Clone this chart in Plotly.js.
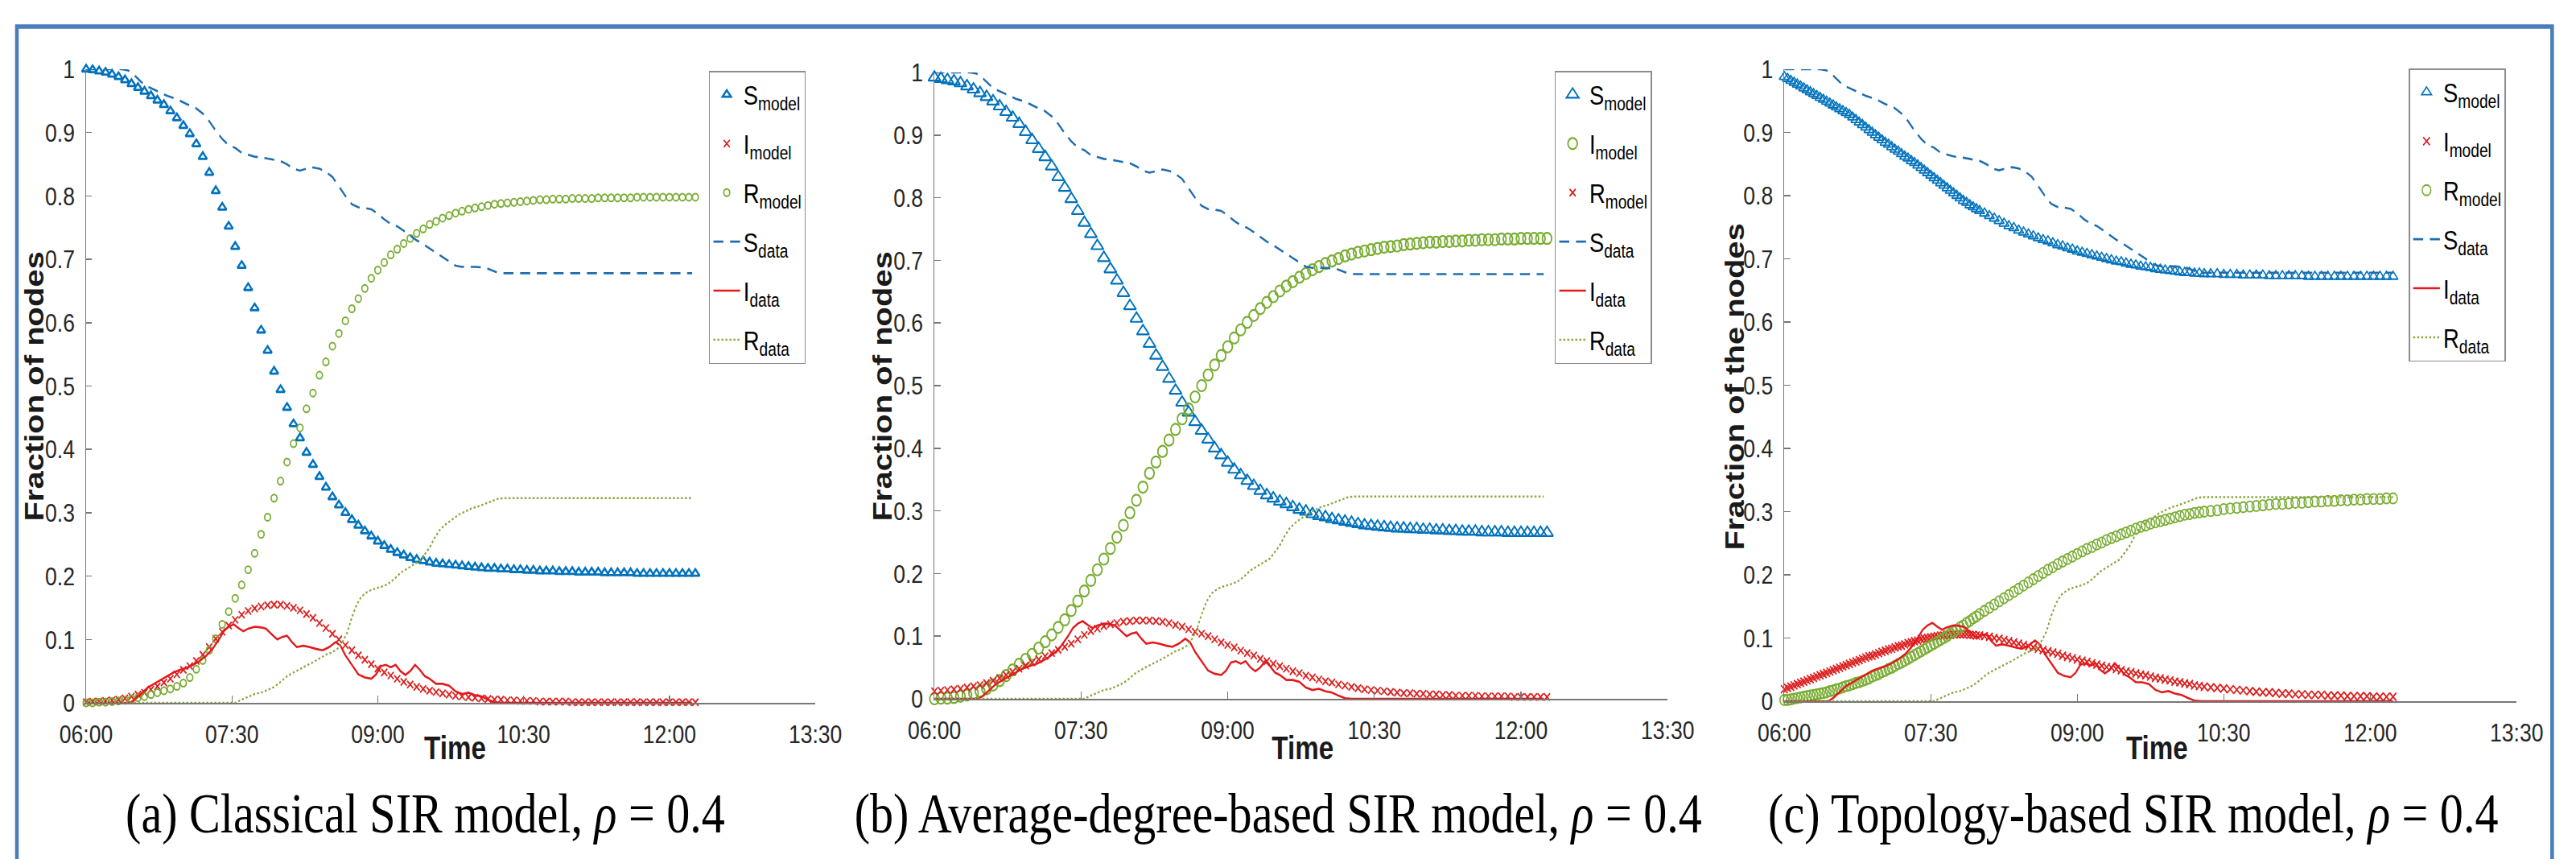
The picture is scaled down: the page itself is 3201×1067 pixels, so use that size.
<!DOCTYPE html>
<html>
<head>
<meta charset="utf-8">
<script src="https://cdn.plot.ly/plotly-3.0.1.min.js"></script>
<style>
html,body{margin:0;padding:0;overflow:hidden;background:#fff}
#wrap{width:3857px;height:1067px;transform:scaleX(0.83);transform-origin:0 0}
</style>
</head>
<body>
<div id="wrap"><div id="plot" style="width:3857px;height:1067px"></div></div>
<script>
// ---------- axis ticks ----------
const tickVals = [0, 90, 180, 270, 360, 450];            // minutes after 06:00
const tickText = ["06:00", "07:30", "09:00", "10:30", "12:00", "13:30"];

// ---------- observed data (same in all three panels), time in minutes after 06:00 ----------
const tS = [0,22,26,30,36,42,50,56,62,67,72,76,80,84,88,92,96,100,104,110,116,120,124,128,132,136,140,144,148,152,156,160,164,168,172,176,180,184,188,192,196,200,204,208,212,216,220,224,228,232,240,246,250,254,258,374];
const sData = [1,1,0.998,0.99,0.975,0.968,0.958,0.953,0.945,0.94,0.93,0.918,0.903,0.89,0.88,0.876,0.868,0.865,0.862,0.86,0.857,0.855,0.85,0.843,0.84,0.843,0.845,0.843,0.838,0.83,0.815,0.8,0.787,0.782,0.781,0.779,0.772,0.763,0.756,0.752,0.745,0.737,0.73,0.724,0.717,0.71,0.703,0.697,0.69,0.688,0.688,0.687,0.683,0.679,0.678,0.678];
const tI = [0,27,30,34,38,42,46,50,54,58,62,66,70,74,78,82,85,88,91,94,97,100,104,108,111,115,118,121,124,127,130,134,138,142,146,150,154,157,160,164,168,172,176,179,182,185,188,191,194,197,200,203,206,209,212,216,220,224,228,232,236,240,244,248,252,256,374];
const iData = [0,0,0.005,0.015,0.024,0.03,0.036,0.042,0.048,0.052,0.055,0.06,0.066,0.074,0.085,0.1,0.113,0.12,0.124,0.118,0.113,0.117,0.12,0.119,0.117,0.107,0.1,0.104,0.106,0.096,0.088,0.09,0.088,0.085,0.083,0.088,0.096,0.09,0.075,0.06,0.045,0.04,0.038,0.045,0.058,0.06,0.056,0.06,0.05,0.044,0.05,0.06,0.052,0.042,0.038,0.03,0.03,0.027,0.018,0.014,0.016,0.012,0.01,0.005,0.001,0,0];
const tR = [0,92,96,100,104,108,112,116,120,124,128,132,136,140,144,148,152,155,158,161,164,167,170,174,178,182,186,190,194,198,202,206,209,212,215,218,222,226,230,234,238,242,246,250,254,258,374];
const rData = [0,0,0.005,0.01,0.014,0.016,0.02,0.025,0.033,0.042,0.048,0.053,0.058,0.064,0.07,0.076,0.08,0.085,0.095,0.11,0.135,0.155,0.168,0.176,0.18,0.183,0.187,0.195,0.205,0.212,0.218,0.224,0.235,0.245,0.26,0.272,0.282,0.29,0.297,0.302,0.307,0.31,0.314,0.318,0.322,0.323,0.323];

// ---------- (a) classical SIR model, one point every 4 minutes from 06:00 ----------
const sModelA = [1.0,0.999,0.997,0.995,0.992,0.988,0.983,0.977,0.971,0.965,
 0.958,0.951,0.944,0.934,0.923,0.911,0.898,0.882,0.862,0.837,
 0.808,0.782,0.752,0.72,0.69,0.655,0.623,0.588,0.556,0.523,
 0.494,0.466,0.44,0.418,0.395,0.376,0.357,0.34,0.325,0.312,
 0.3,0.289,0.28,0.271,0.263,0.255,0.248,0.242,0.237,0.233,
 0.229,0.226,0.224,0.222,0.22,0.219,0.218,0.217,0.216,0.215,
 0.214,0.213,0.212,0.212,0.211,0.211,0.21,0.21,0.209,0.209,
 0.208,0.208,0.208,0.207,0.207,0.207,0.206,0.206,0.206,0.206,
 0.205,0.205,0.205,0.205,0.205,0.204,0.204,0.204,0.204,0.204,
 0.204,0.204,0.204,0.204,0.204];
const iModelA = [0.001,0.002,0.002,0.003,0.004,0.005,0.007,0.01,0.013,0.016,
 0.021,0.026,0.032,0.038,0.045,0.052,0.058,0.066,0.076,0.088,
 0.101,0.112,0.122,0.131,0.139,0.145,0.149,0.152,0.154,0.155,
 0.155,0.153,0.15,0.146,0.14,0.134,0.126,0.118,0.109,0.1,
 0.091,0.083,0.075,0.068,0.061,0.054,0.048,0.043,0.038,0.033,
 0.029,0.025,0.022,0.019,0.017,0.015,0.013,0.011,0.01,0.009,
 0.008,0.007,0.006,0.005,0.005,0.004,0.004,0.003,0.003,0.003,
 0.002,0.002,0.002,0.002,0.002,0.001,0.001,0.001,0.001,0.001,
 0.001,0.001,0.001,0.001,0.001,0.001,0.001,0.001,0.001,0.001,
 0.001,0.001,0.001,0.001,0.001];
const rModelA = [0,0,0.001,0.001,0.002,0.003,0.004,0.006,0.008,0.01,
 0.013,0.016,0.019,0.022,0.026,0.031,0.04,0.053,0.067,0.083,
 0.101,0.124,0.144,0.165,0.186,0.21,0.236,0.266,0.293,0.323,
 0.35,0.38,0.409,0.434,0.464,0.489,0.517,0.538,0.563,0.583,
 0.603,0.622,0.638,0.654,0.67,0.683,0.695,0.707,0.716,0.725,
 0.733,0.741,0.748,0.755,0.76,0.765,0.769,0.773,0.776,0.779,
 0.781,0.783,0.785,0.787,0.788,0.789,0.79,0.791,0.792,0.793,
 0.794,0.794,0.795,0.795,0.795,0.796,0.796,0.796,0.796,0.797,
 0.797,0.797,0.797,0.797,0.797,0.798,0.798,0.798,0.798,0.798,
 0.798,0.798,0.798,0.798,0.798];

// ---------- (b) average-degree-based SIR model, one point every 4 minutes ----------
const sModelB = [0.992,0.99,0.988,0.986,0.983,0.978,0.973,0.967,0.961,0.954,
 0.946,0.937,0.928,0.918,0.905,0.892,0.878,0.865,0.85,0.833,
 0.816,0.798,0.779,0.76,0.742,0.723,0.704,0.686,0.668,0.648,
 0.627,0.607,0.587,0.567,0.548,0.53,0.511,0.492,0.473,0.457,
 0.442,0.428,0.414,0.4,0.389,0.377,0.366,0.357,0.348,0.34,
 0.332,0.325,0.32,0.315,0.311,0.306,0.302,0.299,0.295,0.292,
 0.29,0.287,0.285,0.283,0.281,0.279,0.277,0.276,0.275,0.274,
 0.273,0.272,0.272,0.271,0.271,0.27,0.27,0.269,0.269,0.268,
 0.268,0.267,0.267,0.267,0.266,0.266,0.266,0.266,0.265,0.265,
 0.265,0.265,0.265,0.265,0.265];
const iModelB = [0,0.001,0.001,0.002,0.004,0.006,0.009,0.012,0.016,0.022,
 0.029,0.037,0.046,0.055,0.063,0.071,0.081,0.091,0.102,0.114,
 0.126,0.141,0.156,0.172,0.189,0.206,0.223,0.24,0.258,0.277,
 0.297,0.317,0.338,0.36,0.378,0.395,0.413,0.43,0.447,0.463,
 0.482,0.5,0.517,0.533,0.548,0.562,0.576,0.589,0.601,0.612,
 0.623,0.633,0.642,0.651,0.659,0.666,0.673,0.679,0.685,0.69,
 0.695,0.699,0.703,0.707,0.71,0.713,0.715,0.717,0.719,0.721,
 0.722,0.723,0.725,0.726,0.727,0.728,0.729,0.729,0.73,0.73,
 0.731,0.731,0.732,0.732,0.733,0.733,0.733,0.734,0.734,0.734,
 0.735,0.735,0.735,0.735,0.735];
const rModelB = [0.012,0.013,0.014,0.015,0.016,0.018,0.02,0.022,0.025,0.029,
 0.033,0.038,0.043,0.048,0.053,0.058,0.063,0.068,0.073,0.078,
 0.083,0.088,0.095,0.102,0.108,0.112,0.116,0.119,0.121,0.123,
 0.124,0.125,0.125,0.125,0.124,0.123,0.121,0.118,0.115,0.111,
 0.107,0.104,0.1,0.095,0.09,0.086,0.082,0.077,0.073,0.069,
 0.064,0.06,0.056,0.052,0.048,0.044,0.041,0.037,0.034,0.031,
 0.028,0.026,0.023,0.021,0.019,0.017,0.015,0.014,0.013,0.012,
 0.011,0.01,0.009,0.009,0.008,0.008,0.007,0.007,0.006,0.006,
 0.005,0.005,0.005,0.005,0.004,0.004,0.004,0.004,0.004,0.003,
 0.003,0.003,0.003,0.003,0.003];

// ---------- (c) topology-based SIR model, irregular solver times (minutes) ----------
const tC = [0,2,4,6,8,10,12,14,16,18,20,22,24,26,28,30,32,34,36,38,40,42,44,46,48,50,52,54,56,58,
 60,62,64,66,68,70,72,74,76,78,80,82,84,86,88,90,92,94,96,98,100,102,104,106,108,110,112,114,116,118,120,
 123,126,129,132,135,138,141,144,147,150,153,156,159,162,165,168,171,174,177,180,183,186,189,192,195,198,
 201,204,207,210,213,216,219,222,225,228,231,234,237,240,243,246,249,252,255,258,
 262,266,270,274,278,282,286,290,294,298,302,306,310,314,318,322,326,330,334,338,342,346,350,354,358,362,366,370,374];
const sModelC = [0.988,0.985,0.982,0.979,0.976,0.973,0.97,0.967,0.964,0.961,
 0.958,0.955,0.952,0.949,0.946,0.943,0.94,0.937,0.934,0.931,
 0.928,0.924,0.92,0.916,0.912,0.908,0.904,0.9,0.896,0.892,
 0.888,0.884,0.881,0.877,0.873,0.87,0.866,0.862,0.859,0.855,
 0.852,0.848,0.844,0.84,0.836,0.832,0.828,0.824,0.82,0.816,
 0.812,0.808,0.804,0.8,0.796,0.792,0.789,0.785,0.782,0.779,
 0.776,
 0.772,0.768,0.764,0.76,0.756,0.752,0.749,0.745,0.742,0.739,
 0.736,0.733,0.73,0.728,0.725,0.722,0.72,0.717,0.715,0.712,
 0.71,0.708,0.706,0.704,0.702,0.7,0.698,0.696,0.695,0.693,
 0.691,0.69,0.688,0.687,0.686,0.684,0.683,0.682,0.681,0.68,
 0.679,0.678,0.678,0.677,0.677,0.676,
 0.676,0.676,0.675,0.675,0.675,0.674,0.674,0.674,0.674,0.673,
 0.673,0.673,0.673,0.673,0.673,0.672,0.672,0.672,0.672,0.672,
 0.672,0.672,0.672,0.672,0.672,0.672,0.672,0.672,0.672];
const iModelC = [0.019,0.021,0.023,0.025,0.027,0.029,0.031,0.033,0.035,0.037,
 0.039,0.041,0.043,0.045,0.047,0.049,0.051,0.053,0.055,0.057,
 0.059,0.061,0.063,0.065,0.067,0.069,0.071,0.072,0.074,0.076,
 0.078,0.08,0.082,0.083,0.085,0.087,0.088,0.09,0.092,0.093,
 0.095,0.096,0.098,0.099,0.1,0.101,0.102,0.103,0.104,0.104,
 0.105,0.105,0.106,0.106,0.106,0.106,0.106,0.105,0.105,0.104,
 0.104,
 0.103,0.102,0.1,0.099,0.097,0.095,0.093,0.091,0.089,0.087,
 0.085,0.083,0.081,0.079,0.077,0.075,0.072,0.07,0.068,0.066,
 0.064,0.062,0.06,0.058,0.056,0.054,0.053,0.051,0.049,0.047,
 0.046,0.044,0.042,0.041,0.039,0.037,0.036,0.034,0.033,0.031,
 0.03,0.028,0.027,0.025,0.024,0.023,
 0.022,0.021,0.02,0.019,0.018,0.017,0.016,0.015,0.014,0.014,
 0.013,0.012,0.012,0.011,0.011,0.01,0.01,0.01,0.009,0.009,
 0.009,0.008,0.008,0.008,0.008,0.007,0.007,0.007,0.007];
const rModelC = [0.002,0.002,0.003,0.004,0.005,0.006,0.007,0.008,0.009,0.01,
 0.011,0.012,0.013,0.014,0.016,0.017,0.019,0.02,0.022,0.024,
 0.025,0.027,0.029,0.03,0.032,0.034,0.036,0.039,0.041,0.043,
 0.046,0.048,0.051,0.053,0.056,0.059,0.061,0.064,0.067,0.07,
 0.073,0.076,0.079,0.082,0.085,0.088,0.091,0.094,0.097,0.1,
 0.103,0.107,0.11,0.113,0.117,0.12,0.124,0.127,0.131,0.134,
 0.138,
 0.143,0.148,0.153,0.158,0.163,0.168,0.173,0.178,0.183,0.188,
 0.193,0.198,0.203,0.208,0.212,0.217,0.221,0.225,0.229,0.233,
 0.237,0.241,0.244,0.248,0.251,0.255,0.258,0.261,0.264,0.267,
 0.27,0.273,0.276,0.278,0.281,0.283,0.285,0.287,0.289,0.291,
 0.293,0.295,0.296,0.298,0.299,0.3,
 0.301,0.302,0.304,0.305,0.306,0.307,0.308,0.309,0.31,0.311,
 0.312,0.312,0.313,0.314,0.314,0.315,0.316,0.316,0.317,0.317,
 0.318,0.318,0.319,0.319,0.32,0.32,0.32,0.321,0.321];

const captions = ["(a) Classical SIR model, <i>ρ</i> = 0.4",
                  "(b) Average-degree-based SIR model, <i>ρ</i> = 0.4",
                  "(c) Topology-based SIR model, <i>ρ</i> = 0.4"];
const yTitles = ["Fraction of nodes", "Fraction of nodes", "Fraction of the nodes"];

// ---------- styling ----------
const BLUE = '#0072BD', RED = '#DC1F1F', GREEN = '#77AC30';
const FW = 3201, FH = 1067;               // reference pixel frame (after horizontal squeeze)
const fx = p => p / FW, fy = p => 1 - p / FH;

const tickFont = {family: 'Liberation Sans, Arial, sans-serif', size: 32, color: '#262626'};
const titleFont = {family: 'Liberation Sans, Arial, sans-serif', size: 40, color: '#1a1a1a'};

function xAxis(l, r, anchor) {
  return {domain: [fx(l), fx(r)], anchor: anchor, range: [0, 450], tickvals: tickVals, ticktext: tickText,
    ticks: 'inside', ticklen: 9, tickwidth: 1.5, tickcolor: '#777', showline: true, linecolor: '#777', linewidth: 1.5,
    showgrid: false, zeroline: false, tickfont: tickFont, ticklabelstandoff: 10, fixedrange: true};
}
function yAxis(top, bottom, anchor) {
  return {domain: [fy(bottom), fy(top)], anchor: anchor, range: [0, 1], dtick: 0.1, tick0: 0,
    ticks: 'inside', ticklen: 9, tickwidth: 1.5, tickcolor: '#777', showline: true, linecolor: '#777', linewidth: 1.5,
    showgrid: false, zeroline: false, tickfont: tickFont, ticklabelstandoff: 9, fixedrange: true};
}

function markTrace(name, xs, ys, sym, size, lw, color, xa, ya, leg, grp) {
  const t = {type: 'scatter', mode: 'markers', name: name, y: ys, cliponaxis: false,
    marker: {symbol: sym, size: size, color: color, line: {width: lw, color: color}},
    xaxis: xa, yaxis: ya, legend: leg, legendgroup: grp};
  if (Array.isArray(xs)) { t.x = xs; } else { t.x0 = 0; t.dx = xs; }
  return t;
}
function lineTrace(name, xs, ys, color, width, dash, xa, ya, leg, grp) {
  return {type: 'scatter', mode: 'lines', name: name, x: xs, y: ys, cliponaxis: false,
    line: {color: color, width: width, dash: dash}, xaxis: xa, yaxis: ya, legend: leg, legendgroup: grp};
}
function dataTraces(xa, ya, leg, p) {
  return [
    lineTrace('S<sub>data</sub>', tS, sData, '#1f6cb0', 2.6, '15px,10px', xa, ya, leg, p + '4'),
    lineTrace('I<sub>data</sub>', tI, iData, '#E3191C', 2.6, 'solid', xa, ya, leg, p + '5'),
    lineTrace('R<sub>data</sub>', tR, rData, '#86A83E', 2.4, 'dot', xa, ya, leg, p + '6')
  ];
}

const traces = [
  markTrace('S<sub>model</sub>', 4, sModelA, 'triangle-up-open', 11, 2.8, BLUE, 'x', 'y', 'legend', 'a1'),
  markTrace('I<sub>model</sub>', 4, iModelA, 'x-thin-open', 9, 2, RED, 'x', 'y', 'legend', 'a2'),
  markTrace('R<sub>model</sub>', 4, rModelA, 'circle-open', 9, 2, GREEN, 'x', 'y', 'legend', 'a3'),
  ...dataTraces('x', 'y', 'legend', 'a'),
  markTrace('S<sub>model</sub>', 4, sModelB, 'triangle-up-open', 16, 2.2, BLUE, 'x2', 'y2', 'legend2', 'b1'),
  markTrace('I<sub>model</sub>', 4, iModelB, 'circle-open', 14, 2.2, GREEN, 'x2', 'y2', 'legend2', 'b2'),
  markTrace('R<sub>model</sub>', 4, rModelB, 'x-thin-open', 9, 2, RED, 'x2', 'y2', 'legend2', 'b3'),
  ...dataTraces('x2', 'y2', 'legend2', 'b'),
  markTrace('S<sub>model</sub>', tC, sModelC, 'triangle-up-open', 13, 1.8, BLUE, 'x3', 'y3', 'legend3', 'c1'),
  markTrace('I<sub>model</sub>', tC, iModelC, 'x-thin-open', 10, 2, RED, 'x3', 'y3', 'legend3', 'c2'),
  markTrace('R<sub>model</sub>', tC, rModelC, 'circle-open', 13, 1.8, GREEN, 'x3', 'y3', 'legend3', 'c3'),
  ...dataTraces('x3', 'y3', 'legend3', 'c')
];

function legendAt(left, top) {
  return {x: fx(left), y: fy(top), xanchor: 'left', yanchor: 'top', bgcolor: '#ffffff',
    bordercolor: '#8c8c8c', borderwidth: 1.5, tracegroupgap: 15, itemwidth: 40,
    font: {family: 'Liberation Sans, Arial, sans-serif', size: 33, color: '#000'}};
}

const annotations = [];
[[528, 1010], [1588, 1010], [2650, 1010]].forEach((p, k) => annotations.push({
  xref: 'paper', yref: 'paper', x: fx(p[0]), y: fy(p[1]), xanchor: 'center', yanchor: 'middle', showarrow: false,
  text: captions[k], font: {family: 'Liberation Serif, Times New Roman, serif', size: 70, color: '#000'}}));
[566, 1619, 2680].forEach(px => annotations.push({
  xref: 'paper', yref: 'paper', x: fx(px), y: fy(929), xanchor: 'center', yanchor: 'middle', showarrow: false,
  text: '<b>Time</b>', font: titleFont}));
[42, 1096, 2155].forEach((px, k) => annotations.push({
  xref: 'paper', yref: 'paper', x: fx(px), y: fy(480), xanchor: 'center', yanchor: 'middle', showarrow: false,
  textangle: -90, text: '<b>' + yTitles[k] + '</b>', font: titleFont}));

const layout = {
  width: 3857, height: 1067, margin: {l: 0, r: 0, t: 0, b: 0},
  paper_bgcolor: '#ffffff', plot_bgcolor: 'rgba(0,0,0,0)', showlegend: true,
  xaxis: xAxis(107, 1013, 'y'), yaxis: yAxis(86, 873, 'x'),
  xaxis2: xAxis(1161, 2072, 'y2'), yaxis2: yAxis(90, 868, 'x2'),
  xaxis3: xAxis(2217, 3127, 'y3'), yaxis3: yAxis(86, 871, 'x3'),
  legend: legendAt(881, 88), legend2: legendAt(1932, 88), legend3: legendAt(2993, 85),
  annotations: annotations,
  shapes: [{type: 'rect', xref: 'paper', yref: 'paper', x0: fx(21), x1: fx(3171), y0: -0.1, y1: fy(33),
    line: {color: '#4A7EBB', width: 5.5}, fillcolor: 'rgba(0,0,0,0)', layer: 'above'}]
};

Plotly.newPlot('plot', traces, layout, {staticPlot: true, displayModeBar: false});
</script>
</body>
</html>
